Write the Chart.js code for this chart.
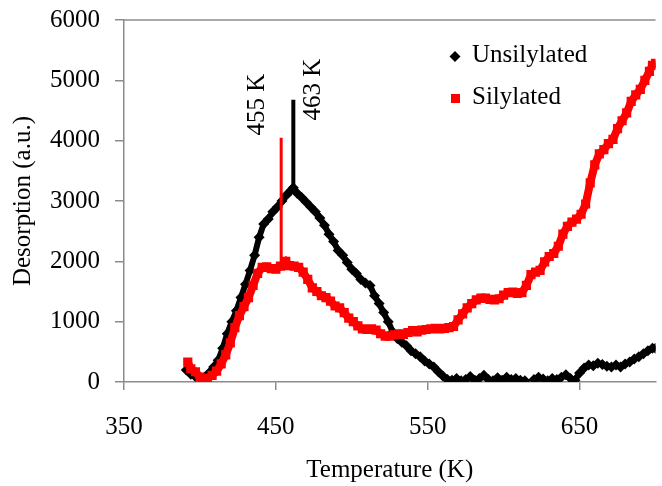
<!DOCTYPE html>
<html><head><meta charset="utf-8">
<script src="https://cdn.jsdelivr.net/npm/chart.js@4/dist/chart.umd.min.js"></script>
<style>html,body{margin:0;padding:0;background:#fff;}</style>
</head><body>
<canvas id="c" width="662" height="486" style="display:block;width:662px;height:486px"></canvas>
<script>
// ---- data ----
const seriesNames = ['Unsilylated', 'Silylated'];
const xTicks = [350, 450, 550, 650];
const xTitle = 'Temperature (K)';
const yTitle = 'Desorption (a.u.)';

const unsilT = [391,394,397,400,403,406,409,412,415,418,421,424,427,430,433,436,439,442,445,448,451,454,457,460,461.5,464,467,470,473,476,479,482,485,488,491,494,497,500,503,506,509,512,515,518,521,524,527,530,533,536,539,542,545,548,551,554,557,560,563,566,569,572,575,578,581,584,587,590,593,596,599,602,605,608,611,614,617,620,623,626,629,632,635,638,641,644,647,650,653,656,659,662,665,668,671,674,677,680,683,686,689,692,695,698,700];
const unsilV = [200,130,90,70,80,150,250,360,560,800,1000,1180,1400,1620,1850,2100,2400,2620,2700,2820,2900,3000,3100,3180,3220,3130,3060,2980,2900,2820,2720,2600,2450,2330,2180,2100,1980,1870,1800,1700,1640,1600,1430,1300,1150,1000,830,720,660,600,520,470,420,350,300,250,170,100,40,30,60,20,40,90,30,60,110,40,20,70,30,80,40,60,30,20,null,40,80,50,20,60,40,80,120,60,30,150,230,280,270,310,290,260,250,280,250,300,330,380,420,470,520,560,560];

const silT = [392,394,397,400,402.5,405,408,411,414,417,420,423,426,429,432,435,438,441,444,447,450,453,456.5,459,462,465,468,471,474,477,480,483,486,489,492,495,498,501,504,507,510,513,516,519,522,525,528,531,534,537,540,543,546,549,552,555,558,561,564,567,570,573,576,579,582,585,588,591,594,597,600,603,606,609,612,615,618,621,624,627,630,633,636,639,642,645,648,651,654,657,660,663,666,669,672,675,678,681,684,687,690,693,696,698,700];
const silV = [330,220,170,80,20,60,110,180,300,450,650,900,1100,1250,1400,1600,1800,1900,1910,1880,1870,1920,2000,1930,1920,1900,1820,1700,1560,1500,1430,1400,1340,1260,1230,1150,1060,1000,930,880,870,880,860,800,760,760,780,800,790,820,850,830,860,870,880,890,880,890,900,920,1030,1130,1230,1300,1360,1390,1390,1370,1360,1380,1440,1480,1490,1470,1480,1600,1780,1820,1850,1990,2080,2130,2250,2450,2580,2650,2700,2780,2950,3300,3600,3780,3850,3950,4020,4200,4330,4460,4650,4760,4850,5000,5150,5250,5280];

// peak markers: [Silylated, Unsilylated]
const peakLabels = ['455 K', '463 K'];
const peakT = [453.5, 461.5];
const peakBase = [2000, 3220];
const peakTop = [4050, 4680];
const peakColors = ['#ff0000', '#000000'];

// ---- build ----
const toPts = (xs, ys) => xs.map((x, i) => ({x: x, y: ys[i]}));
const FONT = 'Liberation Serif, Times New Roman, serif';
const GRAY = '#8c8c8c';

const peakSets = peakT.map((t, i) => ({
  label: peakLabels[i],
  data: [{x: t, y: peakBase[i]}, {x: t, y: peakTop[i]}],
  borderColor: peakColors[i], backgroundColor: peakColors[i],
  borderWidth: i === 0 ? 3 : 4, pointRadius: 0, showLine: true, order: i
}));

const datasets = [
  ...peakSets,
  {label: seriesNames[1], data: toPts(silT, silV), borderColor: '#ff0000', backgroundColor: '#ff0000',
   borderWidth: 8, pointStyle: 'rect', pointRadius: 6.5, pointBorderWidth: 0, showLine: true, spanGaps: false, order: 2},
  {label: seriesNames[0], data: toPts(unsilT, unsilV), borderColor: '#000000', backgroundColor: '#000000',
   borderWidth: 6, pointStyle: 'rectRot', pointRadius: 5.5, pointBorderWidth: 0, showLine: true, spanGaps: false, order: 3}
];

const extras = {
  id: 'extras',
  afterDraw(chart) {
    const ctx = chart.ctx, a = chart.chartArea;
    const xs = chart.scales.x, ys = chart.scales.y;
    ctx.save();
    // top frame line
    ctx.strokeStyle = GRAY; ctx.lineWidth = 1.5;
    ctx.beginPath(); ctx.moveTo(a.left, a.top); ctx.lineTo(a.right, a.top); ctx.stroke();
    // axis titles
    ctx.fillStyle = '#000'; ctx.font = '25px ' + FONT;
    ctx.textAlign = 'center'; ctx.textBaseline = 'middle';
    ctx.fillText(xTitle, (a.left + a.right) / 2, 470);
    ctx.save(); ctx.translate(23, (a.top + a.bottom) / 2); ctx.rotate(-Math.PI / 2);
    ctx.fillText(yTitle, 0, 0); ctx.restore();
    // peak labels
    const offs = [[-24, -33], [20, -10]];
    peakT.forEach((t, i) => {
      const px = xs.getPixelForValue(t) + offs[i][0];
      const py = ys.getPixelForValue(peakTop[i]) + offs[i][1];
      ctx.save(); ctx.translate(px, py); ctx.rotate(-Math.PI / 2);
      ctx.fillText(peakLabels[i], 0, 0); ctx.restore();
    });
    // legend
    ctx.textAlign = 'left'; ctx.textBaseline = 'alphabetic';
    ctx.font = '25px ' + FONT;
    ctx.fillStyle = '#000';
    ctx.beginPath(); ctx.moveTo(455, 51); ctx.lineTo(460.5, 56.5); ctx.lineTo(455, 62); ctx.lineTo(449.5, 56.5); ctx.closePath(); ctx.fill();
    ctx.fillText(seriesNames[0], 472, 62);
    ctx.fillStyle = '#ff0000';
    ctx.fillRect(451, 94, 9, 9);
    ctx.fillStyle = '#000';
    ctx.fillText(seriesNames[1], 472, 104);
    ctx.restore();
  }
};

new Chart(document.getElementById('c'), {
  type: 'scatter',
  data: {datasets},
  options: {
    responsive: false, animation: false, devicePixelRatio: 1,
    layout: {padding: {top: 20, right: 0, left: 0, bottom: 0}},
    plugins: {legend: {display: false}, tooltip: {enabled: false}},
    scales: {
      x: {
        type: 'linear', min: 350, max: 700,
        afterBuildTicks: s => { s.ticks = xTicks.map(v => ({value: v})); },
        afterFit: s => { s.height = 104; s.paddingLeft = 0; s.paddingRight = 0; },
        grid: {drawOnChartArea: false, drawTicks: true, tickLength: 8, color: GRAY, lineWidth: 1.5},
        border: {color: GRAY, width: 1.5},
        ticks: {font: {family: FONT, size: 25}, color: '#000', padding: 22, maxRotation: 0, autoSkip: false},
        title: {display: false}
      },
      y: {
        min: 0, max: 6000,
        ticks: {stepSize: 1000, font: {family: FONT, size: 25}, color: '#000', padding: 15,
                callback: v => String(v)},
        afterFit: s => { s.width = 124; s.paddingTop = 0; s.paddingBottom = 0; },
        grid: {drawOnChartArea: false, drawTicks: true, tickLength: 9, color: GRAY, lineWidth: 1.5},
        border: {color: GRAY, width: 1.5},
        title: {display: false}
      }
    }
  },
  plugins: [extras]
});
</script>
</body></html>
